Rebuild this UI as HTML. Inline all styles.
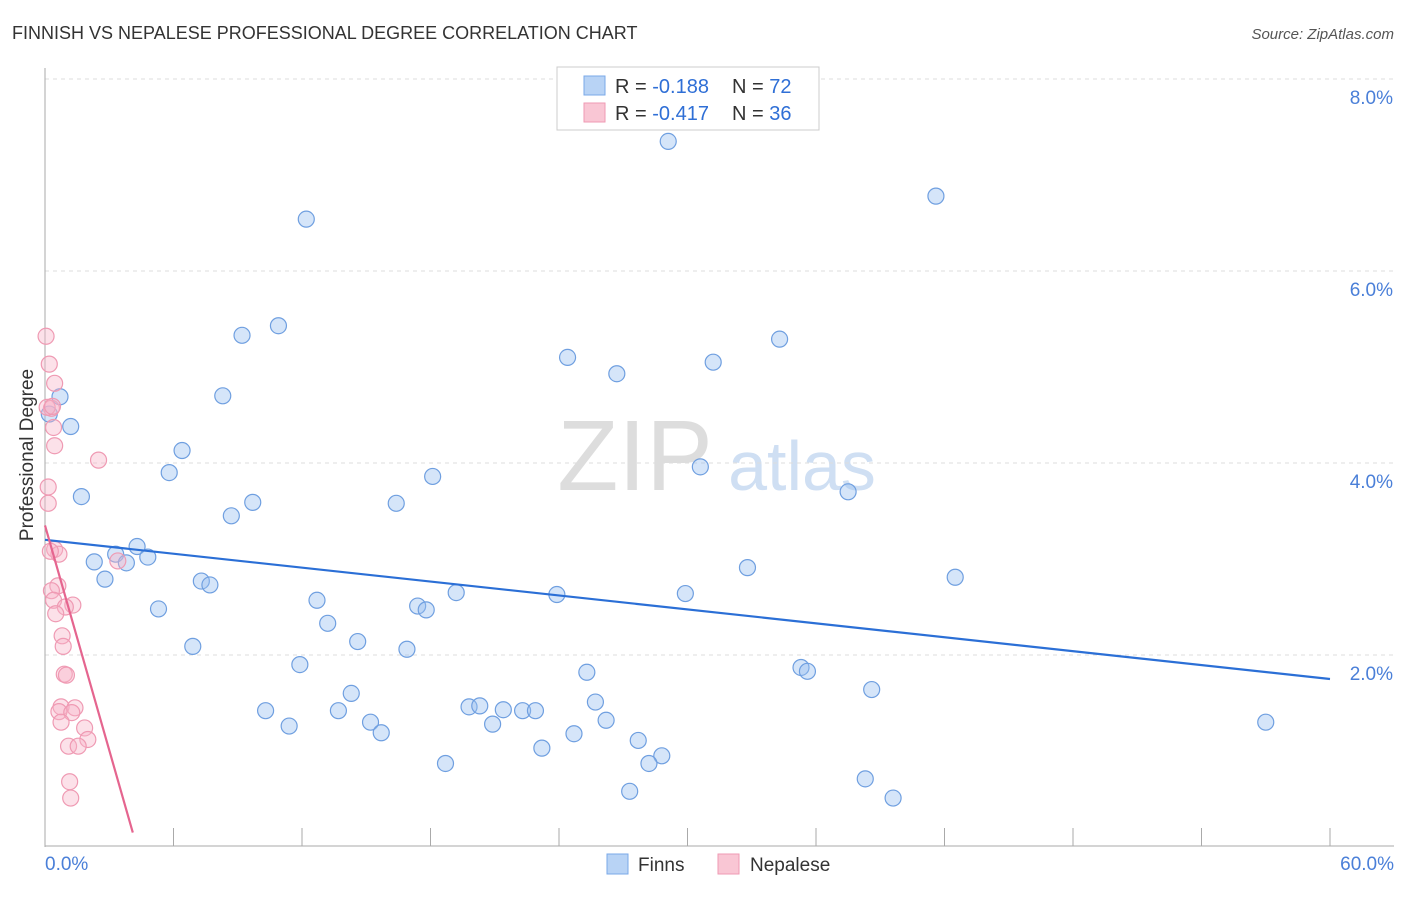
<!DOCTYPE html>
<html><head><meta charset="utf-8">
<style>
body{margin:0;background:#fff;font-family:"Liberation Sans",sans-serif;}
svg text{font-family:"Liberation Sans",sans-serif;}
</style></head>
<body>
<svg id="chart" width="1406" height="892" viewBox="0 0 1406 892">
<text x="12" y="39" font-size="18" fill="#333">FINNISH VS NEPALESE PROFESSIONAL DEGREE CORRELATION CHART</text>
<text x="1394" y="39" font-size="15" fill="#555" text-anchor="end" font-style="italic">Source: ZipAtlas.com</text>
<text x="33" y="455" font-size="19" fill="#333" text-anchor="middle" transform="rotate(-90 33 455)">Professional Degree</text>
<g><text x="635" y="490" font-size="100" fill="#ddd" font-family="Liberation Serif" text-anchor="middle">ZIP</text><text x="802" y="490" font-size="70" fill="#cfdff3" text-anchor="middle">atlas</text></g>
<g id="grid"></g><g id="marks"></g>
<g>
<rect x="557" y="67" width="262" height="63" fill="#fff" stroke="#ccc"/>
<rect x="584" y="76" width="21" height="19" fill="#b8d3f5" stroke="#7aa8e8"/>
<rect x="584" y="103" width="21" height="19" fill="#f9c6d4" stroke="#ef9ab3"/>
<text x="615" y="93" font-size="20" fill="#333">R = <tspan fill="#2f6fd6">-0.188</tspan></text>
<text x="732" y="93" font-size="20" fill="#333">N = <tspan fill="#2f6fd6">72</tspan></text>
<text x="615" y="120" font-size="20" fill="#333">R = <tspan fill="#2f6fd6">-0.417</tspan></text>
<text x="732" y="120" font-size="20" fill="#333">N = <tspan fill="#2f6fd6">36</tspan></text>
</g>
<g>
<rect x="607" y="854" width="21" height="20" fill="#b8d3f5" stroke="#7aa8e8"/>
<text x="638" y="871" font-size="19" fill="#333">Finns</text>
<rect x="718" y="854" width="21" height="20" fill="#f9c6d4" stroke="#ef9ab3"/>
<text x="750" y="871" font-size="19" fill="#333">Nepalese</text>
</g>
</svg>
<script>
const yTicks=[2,4,6,8];
const xTickLabels=["0.0%","60.0%"];
const finnsX=[29.1,41.6,12.2,10.9,9.2,34.3,24.4,31.2,26.7,8.3,0.7,1.2,6.4,5.8,30.6,18.1,1.7,9.7,16.4,8.7,37.5,4.3,3.3,4.8,2.3,3.8,32.8,42.5,2.8,7.3,7.7,19.2,29.9,12.7,23.9,17.4,17.8,5.3,13.2,14.6,6.9,16.9,11.9,25.3,35.3,35.6,14.3,38.6,10.3,19.8,20.3,21.4,22.3,22.9,25.7,13.7,11.4,15.2,20.9,26.2,15.7,24.7,27.7,23.2,28.8,28.2,18.7,38.3,27.3,39.6,57.0,0.2];
const finnsY=[7.35,6.78,6.54,5.43,5.33,5.29,5.10,5.05,4.93,4.70,4.69,4.38,4.13,3.90,3.96,3.86,3.65,3.59,3.58,3.45,3.70,3.13,3.05,3.02,2.97,2.96,2.91,2.81,2.79,2.77,2.73,2.65,2.64,2.57,2.63,2.51,2.47,2.48,2.33,2.14,2.09,2.06,1.90,1.82,1.87,1.83,1.60,1.64,1.42,1.46,1.47,1.43,1.42,1.42,1.51,1.42,1.26,1.30,1.28,1.32,1.19,1.18,1.11,1.03,0.95,0.87,0.87,0.71,0.58,0.51,1.30,4.51];
const nepX=[0.05,0.2,0.45,0.3,0.1,0.4,0.45,2.5,0.15,0.15,0.45,0.65,0.6,0.3,0.4,1.3,0.95,0.5,0.8,0.85,0.9,1.0,0.75,1.4,0.65,1.25,0.75,1.85,2.0,1.1,1.55,1.15,1.2,3.4,0.25,0.35];
const nepY=[5.32,5.03,4.83,4.57,4.58,4.37,4.18,4.03,3.75,3.58,3.10,3.05,2.72,2.67,2.57,2.52,2.50,2.43,2.20,2.09,1.80,1.79,1.46,1.45,1.41,1.40,1.30,1.24,1.12,1.05,1.05,0.68,0.51,2.98,3.08,4.59];
const finnsTrend=[3.2,1.75];
const nepTrend=[3.35,0.15];
const X0=45,X1=1330,Y0=847,PXY=96;
const xs=v=>X0+v*(X1-X0)/60, ys=v=>Y0-v*PXY;
const NS="http://www.w3.org/2000/svg";
function mk(tag,attrs,parent){const e=document.createElementNS(NS,tag);for(const k in attrs)e.setAttribute(k,attrs[k]);parent.appendChild(e);return e;}
const grid=document.getElementById('grid'),marks=document.getElementById('marks');
yTicks.forEach(t=>{
 const l=mk('line',{x1:X0,x2:1394,y1:ys(t),y2:ys(t),stroke:'#ddd','stroke-dasharray':'4 4'},grid);
 
 
 const tx=mk('text',{x:1393,y:ys(t)+25,'font-size':19,fill:'#4a7fd8','text-anchor':'end'},grid);
 tx.textContent=t.toFixed(1)+'%';
 
 
});
let ax=mk('line',{x1:X0,x2:X0,y1:68,y2:847,stroke:'#aaa'},grid);


let bx=mk('line',{x1:X0,x2:1394,y1:846,y2:846,stroke:'#aaa'},grid);


for(let i=0;i<=10;i++){const t=mk('line',{x1:xs(i*6),x2:xs(i*6),y1:828,y2:846,stroke:'#aaa'},grid);
 
 }
[[0,'start',xTickLabels[0]],[60,'end',xTickLabels[1]]].forEach(([v,a,s])=>{const t=mk('text',{x:xs(v)+(a=='end'?64:0),y:870,'font-size':19,fill:'#4a7fd8','text-anchor':a},grid);t.textContent=s;
 
 });
finnsX.forEach((x,i)=>{const c=mk('circle',{cx:xs(x),cy:ys(finnsY[i]),r:8,fill:'rgba(150,190,240,0.4)',stroke:'#6f9fe0','stroke-width':1.2},marks);
 
 });
nepX.forEach((x,i)=>{const c=mk('circle',{cx:xs(x),cy:ys(nepY[i]),r:8,fill:'rgba(248,180,200,0.4)',stroke:'#ef9ab3','stroke-width':1.2},marks);
 
 });
let tl=mk('line',{x1:xs(0),y1:ys(finnsTrend[0]),x2:xs(60),y2:ys(finnsTrend[1]),stroke:'#2b6fd6','stroke-width':2.2},marks);


let tp=mk('line',{x1:xs(0),y1:ys(nepTrend[0]),x2:xs(4.1),y2:ys(nepTrend[1]),stroke:'#e5658f','stroke-width':2.2},marks);


</script>
</body></html>
